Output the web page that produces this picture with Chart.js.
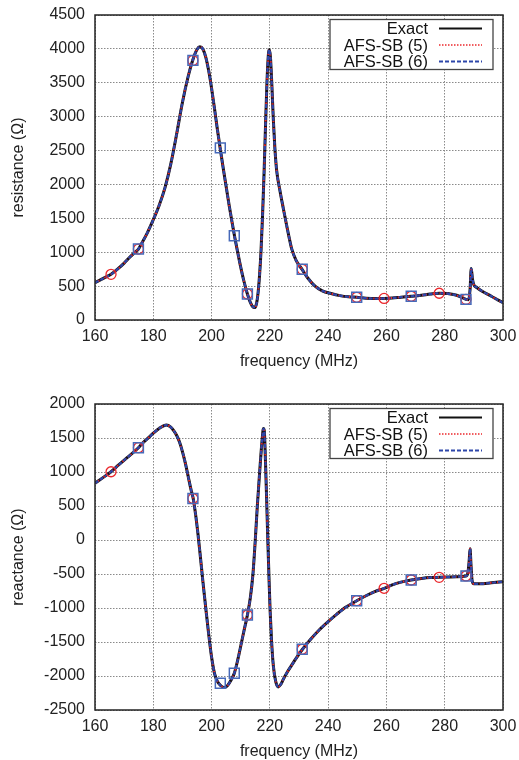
<!DOCTYPE html>
<html>
<head>
<meta charset="utf-8">
<script src="https://cdn.jsdelivr.net/npm/chart.js@4.4.0/dist/chart.umd.min.js"></script>
<style>
  body { margin: 0; background: #fff; }
  canvas { display: block; }
</style>
</head>
<body>
<canvas id="resChart" width="519" height="370"></canvas>
<canvas id="reaChart" width="519" height="390"></canvas>
<script>
// curve values (MHz / ohm)
const resFreq = [160, 162, 164, 165.5, 168, 170, 172, 174, 174.9, 176, 178, 180, 182, 184, 186, 188, 190, 192, 193.5, 195,
  196, 197, 198, 199, 200, 201, 202, 203, 204, 205, 206, 207, 208, 209, 210, 211, 212.3, 213.3, 214.3, 214.9,
  215.5, 216, 216.5, 217, 217.5, 218, 218.5, 219, 219.5, 219.8, 220.2, 220.7, 221.2, 221.7, 222.3, 223.5, 224.6, 225.6, 226.6, 227.5,
  229, 231, 233, 235.5, 238, 241, 244, 247, 249.8, 253, 256, 259.2, 262, 265, 268.5, 272, 275, 278.1, 281, 283,
  285, 287.3, 288.2, 288.7, 289.1, 289.5, 290, 291, 293, 296, 298, 300];
const resistance = [550, 595, 640, 674, 760, 840, 930, 1010, 1047, 1130, 1290, 1480, 1690, 1950, 2300, 2740, 3210, 3600, 3830, 3990,
  4030, 4000, 3880, 3680, 3420, 3120, 2810, 2520, 2240, 1970, 1700, 1450, 1210, 990, 780, 590, 384, 260, 190, 185,
  260, 420, 680, 1050, 1550, 2150, 2850, 3500, 3920, 3990, 3880, 3450, 2950, 2550, 2220, 1900, 1650, 1430, 1220, 1050,
  880, 750, 620, 500, 430, 390, 360, 342, 335, 322, 316, 318, 325, 337, 350, 365, 382, 395, 390, 375,
  350, 305, 300, 450, 760, 610, 520, 480, 420, 350, 300, 256];

const reaFreq = [160, 162.5, 165.5, 168, 171, 174.9, 176, 178, 180, 182, 184.5, 186, 187, 188, 189, 190, 191, 192, 193, 193.7,
  194.5, 195.3, 196, 197, 198, 199, 200, 201, 202, 203.1, 204.3, 205.5, 206.7, 207.8, 209, 210.3, 211.3, 212.3, 213.3, 214.2,
  215, 215.7, 216.5, 217.3, 217.8, 218.1, 218.5, 218.9, 219.3, 219.7, 220.1, 220.6, 221.2, 222, 222.9, 223.8, 224.6, 226, 227.5, 229,
  231.2, 234, 237, 240, 243, 246, 249.8, 253, 256, 259.2, 262, 265, 268.5, 272, 275, 278.1, 281, 284, 287.3, 288,
  288.4, 288.7, 289, 289.4, 290, 292, 296, 300];
const reactance = [834, 910, 1004, 1100, 1210, 1357, 1410, 1490, 1570, 1640, 1690, 1660, 1610, 1540, 1440, 1300, 1130, 930, 730, 610,
  380, 100, -180, -600, -1000, -1380, -1720, -1960, -2080, -2140, -2170, -2140, -2060, -1960, -1760, -1500, -1300, -1103, -850, -500,
  0, 500, 1000, 1450, 1640, 1600, 1150, 600, 0, -550, -1050, -1500, -1850, -2080, -2160, -2120, -2050, -1940, -1840, -1740,
  -1607, -1460, -1320, -1200, -1090, -990, -893, -820, -760, -710, -660, -620, -588, -565, -552, -549, -545, -540, -529, -470,
  -300, -130, -350, -600, -645, -645, -630, -613];

// sample points (markers)
const afs5Freq = [165.5, 174.9, 193.6, 212.3, 231.1, 249.8, 259.2, 268.5, 278.1, 287.3];
const afs5Res = [674, 1047, 3830, 384, 748, 335, 318, 350, 395, 305];
const afs5Rea = [1004, 1357, 610, -1103, -1607, -893, -710, -588, -549, -529];
const afs6Freq = [174.9, 193.6, 203.0, 207.8, 212.3, 231.1, 249.8, 268.5, 287.3];
const afs6Res = [1047, 3830, 2540, 1244, 384, 748, 335, 350, 305];
const afs6Rea = [1357, 610, -2107, -1960, -1103, -1607, -893, -588, -529];

const legendNames = ["Exact", "AFS-SB (5)", "AFS-SB (6)"];

const FONT = "'Liberation Sans', Arial, sans-serif";
const RED = "rgb(235, 40, 45)";
const BLUE = "rgb(45, 70, 170)";
const SQUARE = "rgb(70, 105, 185)";

function pts(xs, ys) {
    return xs.map((x, i) => ({ x: x, y: ys[i] }));
}

// plot frame + gnuplot-like key box
const framePlugin = {
    id: "frame",
    afterDraw(chart) {
        const ctx = chart.ctx;
        const a = chart.chartArea;
        ctx.save();
        ctx.strokeStyle = "#222";
        ctx.lineWidth = 1.5;
        ctx.strokeRect(a.left, a.top, a.right - a.left, a.bottom - a.top);

        const bx = a.right - 173, by = a.top + 4.5;
        ctx.fillStyle = "#fff";
        ctx.fillRect(bx, by, 163, 50);
        ctx.strokeStyle = "#444";
        ctx.lineWidth = 1.3;
        ctx.strokeRect(bx, by, 163, 50);

        const rows = [a.top + 13.5, a.top + 30, a.top + 46.5];
        const styles = [
            { color: "#111", width: 2, dash: [] },
            { color: RED, width: 1.5, dash: [1.5, 1.5] },
            { color: BLUE, width: 1.8, dash: [4, 2] }
        ];
        ctx.font = "16.5px " + FONT;
        ctx.textAlign = "right";
        ctx.textBaseline = "middle";
        rows.forEach((y, i) => {
            ctx.fillStyle = "#111";
            ctx.fillText(legendNames[i], a.right - 75, y + 1);
            ctx.strokeStyle = styles[i].color;
            ctx.lineWidth = styles[i].width;
            ctx.setLineDash(styles[i].dash);
            ctx.beginPath();
            ctx.moveTo(a.right - 64, y);
            ctx.lineTo(a.right - 21, y);
            ctx.stroke();
        });
        ctx.restore();
    }
};

function makeChart(id, freq, values, m5, m6, yMin, yMax, yTitle, topPad) {
    const ctx = document.getElementById(id).getContext("2d");
    return new Chart(ctx, {
        type: "line",
        data: {
            datasets: [
                {
                    label: "markers (6)",
                    data: pts(afs6Freq, m6),
                    showLine: false,
                    pointStyle: "rect",
                    pointRadius: 7,
                    pointBorderWidth: 1.5,
                    pointBorderColor: SQUARE,
                    pointBackgroundColor: "rgba(0,0,0,0)",
                    order: 0
                },
                {
                    label: "markers (5)",
                    data: pts(afs5Freq, m5),
                    showLine: false,
                    pointStyle: "circle",
                    pointRadius: 5,
                    pointBorderWidth: 1.3,
                    pointBorderColor: RED,
                    pointBackgroundColor: "rgba(0,0,0,0)",
                    order: 1
                },
                {
                    label: legendNames[2],
                    data: pts(freq, values),
                    borderColor: BLUE,
                    borderWidth: 2.2,
                    borderDash: [4, 2],
                    pointRadius: 0,
                    cubicInterpolationMode: "monotone",
                    order: 2
                },
                {
                    label: legendNames[1],
                    data: pts(freq, values),
                    borderColor: RED,
                    borderWidth: 2,
                    borderDash: [1.5, 2],
                    pointRadius: 0,
                    cubicInterpolationMode: "monotone",
                    order: 3
                },
                {
                    label: legendNames[0],
                    data: pts(freq, values),
                    borderColor: "#111",
                    borderWidth: 3,
                    pointRadius: 0,
                    cubicInterpolationMode: "monotone",
                    order: 4
                }
            ]
        },
        options: {
            responsive: false,
            animation: false,
            layout: {
                padding: { top: topPad, right: 16, left: 0, bottom: 0 }
            },
            plugins: {
                legend: { display: false },
                tooltip: { enabled: false }
            },
            scales: {
                x: {
                    type: "linear",
                    min: 160,
                    max: 300,
                    afterFit: function (scale) {
                        scale.height = 50;
                        scale.paddingLeft = 0;
                        scale.paddingRight = 0;
                    },
                    ticks: {
                        stepSize: 20,
                        padding: 7,
                        color: "#222",
                        font: { family: FONT, size: 16 },
                        maxRotation: 0
                    },
                    grid: { color: "#8a8a8a", lineWidth: 1, drawTicks: false },
                    border: { display: false, dash: [1.5, 1.5] },
                    title: {
                        display: true,
                        text: "frequency (MHz)",
                        color: "#222",
                        font: { family: FONT, size: 16, lineHeight: 1 },
                        padding: { top: 0, bottom: 0 }
                    }
                },
                y: {
                    min: yMin,
                    max: yMax,
                    afterFit: function (scale) {
                        scale.width = 95;
                        scale.paddingTop = 0;
                        scale.paddingBottom = 0;
                    },
                    ticks: {
                        stepSize: 500,
                        padding: 10,
                        color: "#222",
                        font: { family: FONT, size: 16 },
                        callback: function (v) { return String(v); }
                    },
                    grid: { color: "#8a8a8a", lineWidth: 1, drawTicks: false },
                    border: { display: false, dash: [1.5, 1.5] },
                    title: {
                        display: true,
                        text: yTitle,
                        color: "#222",
                        font: { family: FONT, size: 16, lineHeight: 1 },
                        padding: { top: 11, bottom: 0 }
                    }
                }
            }
        },
        plugins: [framePlugin]
    });
}

makeChart("resChart", resFreq, resistance, afs5Res, afs6Res, 0, 4500, "resistance (Ω)", 15);
makeChart("reaChart", reaFreq, reactance, afs5Rea, afs6Rea, -2500, 2000, "reactance (Ω)", 34);
</script>
</body>
</html>
